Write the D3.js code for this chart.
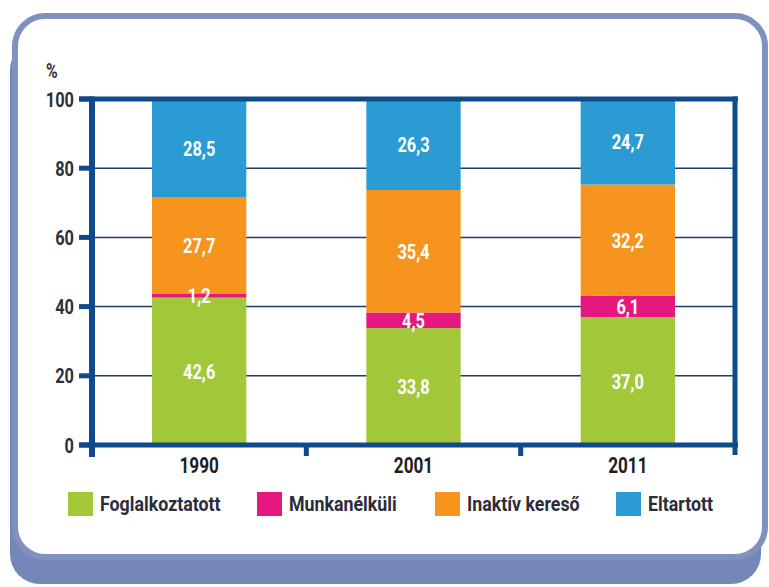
<!DOCTYPE html>
<html>
<head>
<meta charset="utf-8">
<script src="https://cdn.jsdelivr.net/npm/d3@7"></script>
<style>
  html, body { margin: 0; padding: 0; background: #ffffff; }
  svg { display: block; }
  text { font-family: Roboto, "DejaVu Sans", sans-serif; }
</style>
</head>
<body>
<svg id="chart" width="769" height="587"></svg>
<script>
// ---- Data ----
const categories = ["1990", "2001", "2011"];
const seriesNames = ["Foglalkoztatott", "Munkanélküli", "Inaktív kereső", "Eltartott"];
const foglalkoztatott = [42.6, 33.8, 37.0];
const munkanelkuli = [1.2, 4.5, 6.1];
const inaktivKereso = [27.7, 35.4, 32.2];
const eltartott = [28.5, 26.3, 24.7];
const yTicks = [0, 20, 40, 60, 80, 100];
const yUnit = "%";

// ---- Style / layout ----
const colors = ["#a2c83a", "#e6187f", "#f7941d", "#2a9bd3"];
const axisColor = "#0f4a8a";
const gridColor = "#1d3d6b";
const frameColor = "#7487b9";
const textDark = "#2e2e38";
const legendX = [68, 257, 435, 616];
const SX = 0.78; // condensed look

const svg = d3.select("#chart");

function addText(g, x, y, str, o) {
  return g.append("text")
    .attr("transform", `translate(${x},${y}) scale(${o.sx || SX},1)`)
    .attr("dy", o.dy || "0.36em")
    .attr("text-anchor", o.anchor || "start")
    .attr("fill", o.fill || textDark)
    .attr("font-size", o.size || 20)
    .attr("font-weight", o.weight || "bold")
    .text(str);
}

// Frame: shadow + card
svg.append("rect").attr("x", 10).attr("y", 40).attr("width", 751).attr("height", 544)
  .attr("rx", 30).attr("ry", 30).attr("fill", frameColor);
svg.append("rect").attr("x", 15).attr("y", 16).attr("width", 750).attr("height", 541)
  .attr("rx", 30).attr("ry", 30).attr("fill", "#ffffff")
  .attr("stroke", "#8091c0").attr("stroke-width", 6);

// Scales
const plotLeft = 92, plotRight = 735, plotTop = 99, plotBottom = 445;
const x = d3.scaleBand().domain(categories).range([plotLeft, plotRight])
  .paddingInner(0.56).paddingOuter(0.28);
const xEdge = d3.scaleBand().domain(categories).range([plotLeft, plotRight]).padding(0);
const y = d3.scaleLinear().domain([0, 100]).range([plotBottom, plotTop]);

// Gridlines
svg.append("g").selectAll("line").data(yTicks.filter(t => t > 0 && t < 100)).join("line")
  .attr("x1", plotLeft).attr("x2", plotRight)
  .attr("y1", d => y(d)).attr("y2", d => y(d))
  .attr("stroke", gridColor).attr("stroke-width", 1.5);

// Stack
const rows = categories.map((c, i) => ({
  cat: c,
  [seriesNames[0]]: foglalkoztatott[i],
  [seriesNames[1]]: munkanelkuli[i],
  [seriesNames[2]]: inaktivKereso[i],
  [seriesNames[3]]: eltartott[i]
}));
const stacked = d3.stack().keys(seriesNames)(rows);

const fmt = v => d3.format(".1f")(v).replace(".", ",");

const layers = svg.append("g").selectAll("g").data(stacked).join("g")
  .attr("fill", (d, i) => colors[i]);
layers.selectAll("rect").data(d => d).join("rect")
  .attr("x", d => x(d.data.cat))
  .attr("width", x.bandwidth())
  .attr("y", d => y(d[1]))
  .attr("height", d => y(d[0]) - y(d[1]));

// Value labels
const labelG = svg.append("g");
stacked.forEach(layer => {
  layer.forEach(d => {
    addText(labelG, x(d.data.cat) + x.bandwidth() / 2, y((d[0] + d[1]) / 2), fmt(d[1] - d[0]),
      { anchor: "middle", fill: "#ffffff", size: 21 });
  });
});

// Axes (thick)
const ax = svg.append("g").attr("stroke", axisColor).attr("stroke-linecap", "butt");
ax.append("line").attr("x1", 79).attr("x2", plotRight + 3).attr("y1", y(100)).attr("y2", y(100)).attr("stroke-width", 5);
ax.append("line").attr("x1", 79).attr("x2", plotRight + 3).attr("y1", y(0)).attr("y2", y(0)).attr("stroke-width", 5);
ax.append("line").attr("x1", plotLeft).attr("x2", plotLeft).attr("y1", y(100) - 2.5).attr("y2", 457).attr("stroke-width", 6);
ax.append("line").attr("x1", plotRight).attr("x2", plotRight).attr("y1", y(100) - 2.5).attr("y2", 455).attr("stroke-width", 5);
ax.selectAll("line.yt").data(yTicks).join("line").attr("class", "yt")
  .attr("x1", 79).attr("x2", plotLeft).attr("y1", d => y(d)).attr("y2", d => y(d))
  .attr("stroke-width", 5);
ax.selectAll("line.xt").data(categories.slice(1)).join("line").attr("class", "xt")
  .attr("x1", d => xEdge(d)).attr("x2", d => xEdge(d))
  .attr("y1", y(0)).attr("y2", 456).attr("stroke-width", 5);

// y tick labels
const yl = svg.append("g");
yTicks.forEach(t => addText(yl, 74, y(t), t, { anchor: "end", size: 21 }));
addText(svg, 46, 70, yUnit, { size: 21, sx: 0.75 });

// x labels
const xl = svg.append("g");
categories.forEach(c => addText(xl, x(c) + x.bandwidth() / 2, 465, c, { anchor: "middle", size: 22, fill: "#1e1e24" }));

// Legend
const leg = svg.append("g");
seriesNames.forEach((s, i) => {
  const g = leg.append("g").attr("transform", `translate(${legendX[i]},492)`);
  g.append("rect").attr("width", 25).attr("height", 24).attr("fill", colors[i]);
  addText(g, 32, 12, s, { size: 20, fill: "#2c2c3a", sx: 0.89 });
});
</script>
</body>
</html>
